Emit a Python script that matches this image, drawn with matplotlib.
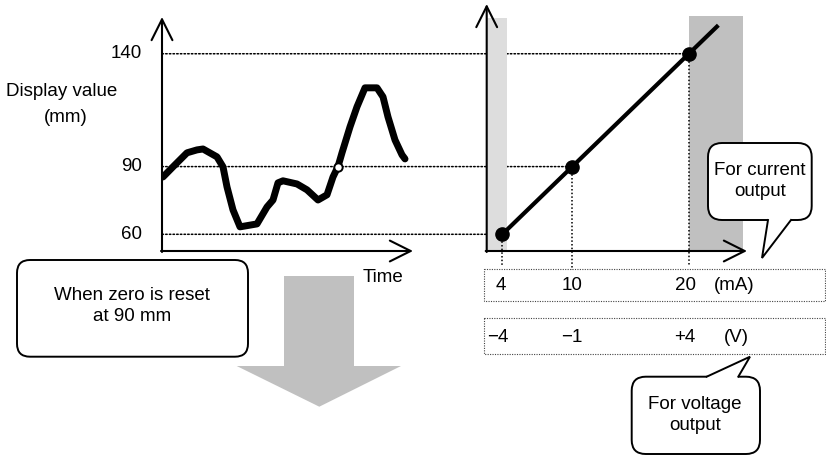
import matplotlib
matplotlib.use('Agg')
import matplotlib.pyplot as plt
from matplotlib.patches import FancyBboxPatch, Polygon, Rectangle, ConnectionPatch

plt.rcParams['font.family'] = ['Liberation Sans', 'DejaVu Sans']

# --- data -------------------------------------------------------------
# display value trace over time (left panel)
time_pts = [0.04, 0.44, 1.0, 1.4, 1.64, 2.2, 2.44, 2.6, 2.84, 3.12, 3.8, 4.2,
            4.44, 4.64, 4.84, 5.4, 5.8, 6.24, 6.6, 6.84, 7.04, 7.2, 7.52, 7.8,
            8.12, 8.6, 8.84, 9.04, 9.32, 9.6, 9.72]
display_mm = [85.4, 89.9, 96.1, 97.4, 97.8, 94.3, 89.9, 81.0, 70.8, 63.3, 64.6, 72.1,
              75.2, 82.8, 83.7, 82.3, 79.7, 75.2, 77.5, 85.4, 90.0, 96.1, 107.6, 116.5,
              124.9, 124.9, 120.9, 112.0, 101.8, 95.2, 93.4]
reset_time = 7.04
reset_value = 90

# output mapping (right panel)
current_ma = [4, 10, 20]
mapped_mm = [60, 90, 140]
line_end = (22.4, 152)
current_bands = [(2.7, 4.4), (20, 24.6)]

ytick_values = [140, 90, 60]
ma_labels = ['4', '10', '20', '(mA)']
v_labels = ['\u22124', '\u22121', '+4', '(V)']

# --- layout (pixels) --------------------------------------------------
W, H = 826, 457
AX_TOP, AX_BOT = 5, 251
Y0, Y1 = 52.6, 161.6


def rect(x0, y_top, x1, y_bot):
    return [x0 / W, 1 - y_bot / H, (x1 - x0) / W, (y_bot - y_top) / H]


def mm_at_px(y):
    return Y0 + (AX_BOT - y) / (AX_BOT - AX_TOP) * (Y1 - Y0)


fig = plt.figure(figsize=(W / 100, H / 100), dpi=100)

ax_l = fig.add_axes(rect(162, AX_TOP, 412, AX_BOT))
ax_l.set_xlim(0, 10)
ax_l.set_ylim(Y0, Y1)
ax_l.axis('off')

ax_r = fig.add_axes(rect(486.7, AX_TOP, 746, AX_BOT))
ax_r.set_xlim(2.66, 24.9)
ax_r.set_ylim(Y0, Y1)
ax_r.axis('off')

canvas = fig.add_axes([0, 0, 1, 1], zorder=5)
canvas.set_xlim(0, W)
canvas.set_ylim(H, 0)
canvas.axis('off')
canvas.patch.set_visible(False)

dot = dict(color='black', lw=1.1, linestyle=(0, (1, 1.4)))

# left panel: trace
ax_l.plot(time_pts, display_mm, color='black', lw=5.0,
          solid_capstyle='round', solid_joinstyle='round', zorder=3)
ax_l.plot([reset_time], [reset_value], 'o', ms=6, mfc='white', mec='black',
          mew=1.4, zorder=6)

# right panel: bands, line, points
band_tops = [0.947, 0.955]
band_cols = ['#dddddd', '#c0c0c0']
for (b0, b1), top, col in zip(current_bands, band_tops, band_cols):
    ax_r.axvspan(b0, b1, ymin=0, ymax=top, color=col, lw=0, zorder=0)
ax_r.plot([current_ma[0], line_end[0]], [mapped_mm[0], line_end[1]],
          color='black', lw=3.0, zorder=3)
ax_r.plot(current_ma, mapped_mm, 'o', color='black', ms=9.5, zorder=4)

# dotted guides
for c, v in zip(current_ma, mapped_mm):
    con = ConnectionPatch(xyA=(0, v), coordsA=ax_l.transData,
                          xyB=(c, v), coordsB=ax_r.transData, **dot)
    con.set_zorder(1)
    ax_l.add_artist(con)
for c, v, yb in zip(current_ma, mapped_mm, [266, 270, 266]):
    ax_r.plot([c, c], [v, mm_at_px(yb)], clip_on=False, zorder=1, **dot)

# axis arrows
arrow = dict(arrowstyle='->,head_length=1.5,head_width=0.75', lw=1.5,
             color='black', mutation_scale=10, shrinkA=0, shrinkB=0)
canvas.annotate('', xy=(162, 17), xytext=(162, 252), arrowprops=arrow)
canvas.annotate('', xy=(413, 251), xytext=(161, 251), arrowprops=arrow)
canvas.annotate('', xy=(486.7, 4), xytext=(486.7, 252), arrowprops=arrow)
canvas.annotate('', xy=(747, 251), xytext=(485.7, 251), arrowprops=arrow)

fs = 13.5
for v in ytick_values:
    yp = AX_BOT - (v - Y0) / (Y1 - Y0) * (AX_BOT - AX_TOP)
    canvas.text(142, yp, str(v), ha='right', va='center', fontsize=fs)
canvas.text(62, 91, 'Display value', ha='center', va='center', fontsize=fs)
canvas.text(66, 117, '(mm)', ha='center', va='center', fontsize=fs)
canvas.text(383, 278, 'Time', ha='center', va='center', fontsize=fs)

# unit boxes
for y0, y1 in [(269, 300.7), (318, 354)]:
    canvas.add_patch(Rectangle((484, y0), 341, y1 - y0, fill=False,
                               ec='#444444', lw=0.8, linestyle=(0, (1, 1.2))))
for lab, x in zip(ma_labels, [501, 572, 685, 734]):
    canvas.text(x, 285, lab, ha='center', va='center', fontsize=fs)
for lab, x in zip(v_labels, [498, 572, 685, 736]):
    canvas.text(x, 337, lab, ha='center', va='center', fontsize=fs)

# big gray arrow
canvas.add_patch(Polygon([(284, 276), (354, 276), (354, 366), (401, 366),
                          (319.3, 406.7), (236.7, 366), (284, 366)],
                         closed=True, fc='#c0c0c0', ec='none'))

# left rounded box
canvas.add_patch(FancyBboxPatch((17, 260), 231, 96.7,
                                boxstyle='round,pad=0,rounding_size=13',
                                fc='white', ec='black', lw=1.4))
canvas.text(132, 306, 'When zero is reset\nat 90 mm', ha='center',
            va='center', fontsize=fs, linespacing=1.3)


def callout(x0, y0, x1, y1, tail, text, tx, ty):
    canvas.add_patch(FancyBboxPatch((x0, y0), x1 - x0, y1 - y0,
                                    boxstyle='round,pad=0,rounding_size=14',
                                    fc='white', ec='black', lw=1.4, zorder=2))
    (bx0, by0), tip, (bx1, by1) = tail
    inset = 3 if by0 >= y1 - 1 else -3
    canvas.add_patch(Polygon([(bx0, by0 - inset), (bx0, by0), tip, (bx1, by1),
                              (bx1, by1 - inset)], closed=True, fc='white',
                             ec='none', zorder=3))
    canvas.plot([bx0, tip[0], bx1], [by0, tip[1], by1], color='black',
                lw=1.4, solid_joinstyle='miter', zorder=4)
    canvas.text(tx, ty, text, ha='center', va='center', fontsize=fs,
                linespacing=1.3, zorder=5)


callout(708, 143, 811.7, 220, [(768, 220), (762, 258), (791, 220)],
        'For current\noutput', 760, 181)
callout(631.7, 376.7, 760, 454, [(706.7, 376.7), (750, 356.7), (738.3, 376.7)],
        'For voltage\noutput', 695, 415)

fig.savefig('out.png', dpi=100)
